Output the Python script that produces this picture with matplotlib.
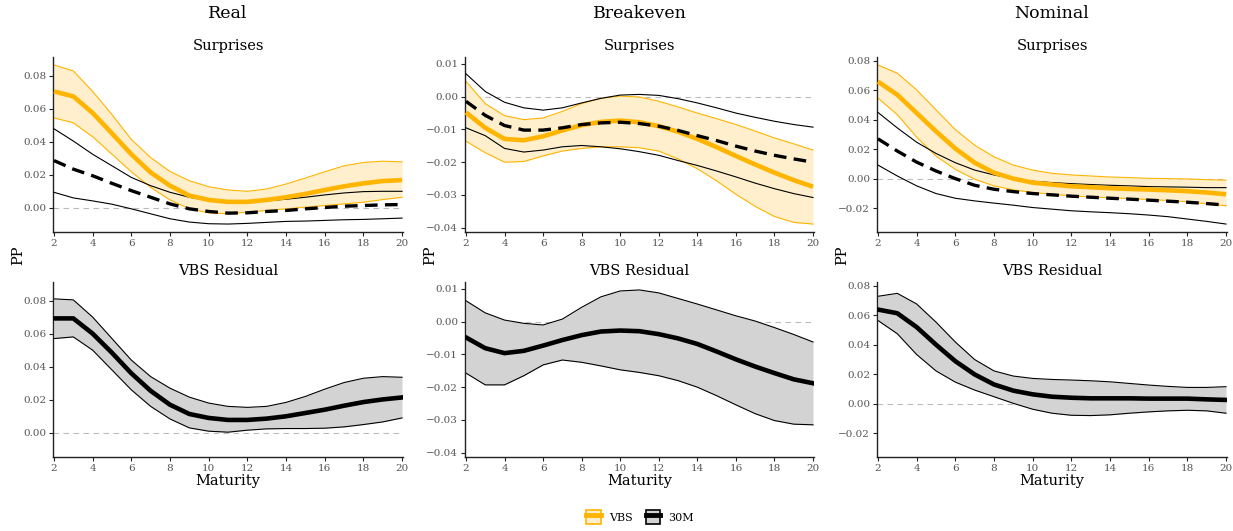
import matplotlib
matplotlib.use("Agg")
import matplotlib.pyplot as plt
import numpy as np
from matplotlib.patches import Patch
from matplotlib.lines import Line2D
from matplotlib.ticker import FuncFormatter, MultipleLocator

plt.rcParams['font.family'] = ['DejaVu Serif']

maturity = list(range(2, 21))
columns = ["Real", "Breakeven", "Nominal"]

# ---- Surprises: VBS ----
real_vbs_mean = [0.0704, 0.0674, 0.0574, 0.045, 0.0324, 0.0214, 0.0134, 0.0074, 0.0048, 0.0036, 0.0036, 0.0048, 0.0064, 0.0084, 0.0108, 0.013, 0.0148, 0.0162, 0.0168]
real_vbs_hi = [0.0864, 0.0828, 0.0704, 0.0564, 0.0414, 0.0304, 0.022, 0.0164, 0.0128, 0.0108, 0.010, 0.0114, 0.0144, 0.018, 0.0218, 0.0254, 0.0274, 0.0282, 0.0278]
real_vbs_lo = [0.0544, 0.0514, 0.043, 0.0324, 0.0218, 0.0124, 0.0048, -0.0006, -0.003, -0.0036, -0.0026, -0.0016, -0.0006, 0.0004, 0.0014, 0.0024, 0.0034, 0.005, 0.0064]
real_30m_mean = [0.0286, 0.0234, 0.0194, 0.0148, 0.0104, 0.0064, 0.0024, -0.0006, -0.0022, -0.0032, -0.003, -0.0022, -0.0016, -0.0006, 0.0002, 0.001, 0.0014, 0.0018, 0.002]
real_30m_hi = [0.0478, 0.0404, 0.0324, 0.0254, 0.0184, 0.0134, 0.0094, 0.0064, 0.0044, 0.0034, 0.0034, 0.0042, 0.0052, 0.0064, 0.0078, 0.009, 0.0098, 0.010, 0.010]
real_30m_lo = [0.0094, 0.006, 0.0042, 0.0022, -0.0006, -0.0036, -0.0066, -0.0086, -0.0096, -0.0098, -0.0094, -0.0088, -0.0082, -0.008, -0.0076, -0.0072, -0.007, -0.0066, -0.0062]

be_vbs_mean = [-0.0048, -0.0095, -0.0129, -0.0133, -0.0121, -0.0103, -0.0087, -0.0077, -0.0073, -0.0078, -0.009, -0.0107, -0.0129, -0.0154, -0.0181, -0.0207, -0.0232, -0.0255, -0.0275]
be_vbs_hi = [0.0047, -0.0021, -0.0058, -0.007, -0.0065, -0.0045, -0.0021, -0.0005, 0.0002, -0.0001, -0.0014, -0.0031, -0.005, -0.0067, -0.0085, -0.0105, -0.0126, -0.0144, -0.0163]
be_vbs_lo = [-0.0136, -0.0171, -0.020, -0.0198, -0.0181, -0.0166, -0.0158, -0.0153, -0.0153, -0.0156, -0.0166, -0.019, -0.022, -0.0257, -0.0298, -0.0335, -0.0366, -0.0384, -0.0389]
be_30m_mean = [-0.0014, -0.0057, -0.0088, -0.0102, -0.0102, -0.0095, -0.0085, -0.008, -0.0078, -0.0082, -0.009, -0.0103, -0.0119, -0.0134, -0.0151, -0.0166, -0.0179, -0.019, -0.020]
be_30m_hi = [0.007, 0.0016, -0.0017, -0.0034, -0.0041, -0.0034, -0.0019, -0.0005, 0.0005, 0.0007, 0.0004, -0.0006, -0.0019, -0.0034, -0.005, -0.0063, -0.0075, -0.0085, -0.0093]
be_30m_lo = [-0.0095, -0.0119, -0.0158, -0.0169, -0.0163, -0.0153, -0.0149, -0.0153, -0.0159, -0.0168, -0.0179, -0.0195, -0.021, -0.0227, -0.0245, -0.0264, -0.0281, -0.0296, -0.0308]

nom_vbs_mean = [0.0658, 0.0569, 0.0445, 0.0321, 0.0204, 0.0108, 0.004, 0.0, -0.0027, -0.004, -0.0052, -0.0058, -0.0065, -0.007, -0.0074, -0.0079, -0.0085, -0.0094, -0.0106]
nom_vbs_hi = [0.0771, 0.0715, 0.0602, 0.0467, 0.0333, 0.0227, 0.0148, 0.0092, 0.0058, 0.0036, 0.0025, 0.0018, 0.0011, 0.0007, 0.0002, 0.0, -0.0002, -0.0007, -0.0011]
nom_vbs_lo = [0.0546, 0.0434, 0.0281, 0.0153, 0.0063, -0.0004, -0.0049, -0.0076, -0.0094, -0.0106, -0.0117, -0.0124, -0.013, -0.0135, -0.0142, -0.0148, -0.0157, -0.0171, -0.0184]
nom_30m_mean = [0.027, 0.0187, 0.0112, 0.0052, 0.0, -0.0045, -0.0072, -0.0088, -0.0101, -0.011, -0.0119, -0.0126, -0.0133, -0.0139, -0.0146, -0.0153, -0.016, -0.0169, -0.018]
nom_30m_hi = [0.0449, 0.0344, 0.0247, 0.0171, 0.0108, 0.0058, 0.0025, 0.0, -0.0018, -0.0027, -0.0034, -0.004, -0.0045, -0.0049, -0.0054, -0.0056, -0.0058, -0.0061, -0.0061]
nom_30m_lo = [0.0092, 0.0018, -0.0049, -0.0101, -0.0133, -0.0151, -0.0166, -0.018, -0.0196, -0.0207, -0.0218, -0.0225, -0.0231, -0.0238, -0.0247, -0.0258, -0.0274, -0.029, -0.0308]

# ---- VBS Residual ----
real_res_mean = [0.0692, 0.0692, 0.060, 0.0484, 0.036, 0.0254, 0.017, 0.0114, 0.009, 0.0078, 0.0078, 0.0086, 0.010, 0.012, 0.014, 0.0164, 0.0186, 0.0202, 0.0214]
real_res_hi = [0.081, 0.0804, 0.070, 0.057, 0.044, 0.034, 0.027, 0.0216, 0.018, 0.016, 0.0154, 0.016, 0.0184, 0.022, 0.0264, 0.0304, 0.033, 0.034, 0.0336]
real_res_lo = [0.057, 0.058, 0.050, 0.038, 0.026, 0.016, 0.0084, 0.003, 0.001, 0.0004, 0.0016, 0.0024, 0.0026, 0.0026, 0.0028, 0.0036, 0.005, 0.0066, 0.009]

be_res_mean = [-0.0048, -0.0081, -0.0096, -0.0089, -0.0073, -0.0056, -0.0041, -0.003, -0.0027, -0.0029, -0.0038, -0.0051, -0.0068, -0.0091, -0.0115, -0.0137, -0.0157, -0.0176, -0.0188]
be_res_hi = [0.0064, 0.0027, 0.0005, -0.0005, -0.001, 0.0008, 0.0044, 0.0076, 0.0094, 0.0097, 0.0088, 0.0071, 0.0054, 0.0036, 0.0018, 0.0002, -0.0018, -0.0039, -0.0062]
be_res_lo = [-0.0157, -0.0193, -0.0193, -0.0165, -0.0132, -0.0117, -0.0124, -0.0135, -0.0147, -0.0155, -0.0165, -0.018, -0.020, -0.0226, -0.0254, -0.0281, -0.0302, -0.0313, -0.0315]

nom_res_mean = [0.0638, 0.0613, 0.0519, 0.040, 0.0288, 0.0198, 0.013, 0.0088, 0.0063, 0.0047, 0.004, 0.0036, 0.0036, 0.0036, 0.0034, 0.0034, 0.0034, 0.0029, 0.0025]
nom_res_hi = [0.0728, 0.0748, 0.0676, 0.0553, 0.0418, 0.0299, 0.0222, 0.0187, 0.0171, 0.0164, 0.016, 0.0155, 0.0148, 0.0137, 0.0126, 0.0117, 0.011, 0.011, 0.0115]
nom_res_lo = [0.0564, 0.0474, 0.0333, 0.0222, 0.0146, 0.0092, 0.0047, 0.0002, -0.0038, -0.0065, -0.0079, -0.0081, -0.0076, -0.0065, -0.0056, -0.0049, -0.0045, -0.0049, -0.0065]

surprises = [
    (real_vbs_mean, real_vbs_hi, real_vbs_lo, real_30m_mean, real_30m_hi, real_30m_lo),
    (be_vbs_mean, be_vbs_hi, be_vbs_lo, be_30m_mean, be_30m_hi, be_30m_lo),
    (nom_vbs_mean, nom_vbs_hi, nom_vbs_lo, nom_30m_mean, nom_30m_hi, nom_30m_lo),
]
residuals = [
    (real_res_mean, real_res_hi, real_res_lo),
    (be_res_mean, be_res_hi, be_res_lo),
    (nom_res_mean, nom_res_hi, nom_res_lo),
]
ytick_steps = [0.02, 0.01, 0.02]

ORANGE = "#FFB400"
ORANGE_FILL = "#FFEFCC"
GREY_FILL = "#D3D3D3"

W, H = 1233, 531
fig = plt.figure(figsize=(W / 100, H / 100), dpi=100)

lefts = [53, 465, 877]
rights = [403, 814, 1227]
tops = [57, 282]
bottoms = [232, 457]

fmt = FuncFormatter(lambda v, p: ("%.2f" % v).replace("-", "\u2212") if abs(v) > 1e-9 else "0.00")

def style(ax, step):
    for s in ["top", "right"]:
        ax.spines[s].set_visible(False)
    for s in ["left", "bottom"]:
        ax.spines[s].set_linewidth(1.0)
        ax.spines[s].set_color("#222222")
    ax.tick_params(axis="both", labelsize=7.5, colors="#222222", labelcolor="#555555", length=3, width=0.8, pad=2)
    ax.set_xlim(1.95, 20.05)
    ax.xaxis.set_major_locator(MultipleLocator(2))
    ax.yaxis.set_major_locator(MultipleLocator(step))
    ax.yaxis.set_major_formatter(fmt)
    ax.axhline(0, color="#BBBBBB", lw=0.8, ls=(0, (5, 4)), zorder=0)

x = np.array(maturity)
for c in range(3):
    l = lefts[c] / W
    w = (rights[c] - lefts[c]) / W
    ax1 = fig.add_axes([l, 1 - bottoms[0] / H, w, (bottoms[0] - tops[0]) / H])
    ax2 = fig.add_axes([l, 1 - bottoms[1] / H, w, (bottoms[1] - tops[1]) / H], sharey=ax1)
    vm, vh, vl, m30, h30, l30 = surprises[c]
    ax1.fill_between(x, vl, vh, color=ORANGE_FILL, lw=0, zorder=1)
    ax1.plot(x, vh, color=ORANGE, lw=0.8, zorder=2)
    ax1.plot(x, vl, color=ORANGE, lw=0.8, zorder=2)
    ax1.plot(x, h30, color="black", lw=0.8, zorder=3)
    ax1.plot(x, l30, color="black", lw=0.8, zorder=3)
    ax1.plot(x, vm, color=ORANGE, lw=3.3, zorder=4, solid_capstyle="butt")
    ax1.plot(x, m30, color="black", lw=2.4, dashes=(3.8, 2.2), zorder=5)
    style(ax1, ytick_steps[c])
    ax1.set_title("Surprises", fontsize=10.5, pad=5)

    rm, rh, rl = residuals[c]
    ax2.fill_between(x, rl, rh, color=GREY_FILL, lw=0, zorder=1)
    ax2.plot(x, rh, color="black", lw=0.8, zorder=2)
    ax2.plot(x, rl, color="black", lw=0.8, zorder=2)
    ax2.plot(x, rm, color="black", lw=3.3, zorder=3)
    style(ax2, ytick_steps[c])
    ax2.set_title("VBS Residual", fontsize=10.5, pad=5)
    ax2.set_xlabel("Maturity", fontsize=10.5, labelpad=1)

    cx = (lefts[c] + rights[c]) / 2 / W
    fig.text(cx, 1 - 14 / H, columns[c], ha="center", va="center", fontsize=12.5)
    fig.text((lefts[c] - 35) / W, 1 - 255 / H, "PP", rotation=90, ha="center", va="center", fontsize=10.5)

h_vbs = (Patch(facecolor=ORANGE_FILL, edgecolor=ORANGE, lw=1.2), Line2D([], [], color=ORANGE, lw=3.5))
h_30m = (Patch(facecolor=GREY_FILL, edgecolor="black", lw=1.2), Line2D([], [], color="black", lw=3.5))
fig.legend([h_vbs, h_30m], ["VBS", "30M"], loc="center", bbox_to_anchor=(640 / W, 1 - 517 / H),
           ncol=2, frameon=False, fontsize=8, handlelength=1.3, handleheight=1.6, columnspacing=1.2, handletextpad=0.7)

fig.savefig("out.png", dpi=100)
